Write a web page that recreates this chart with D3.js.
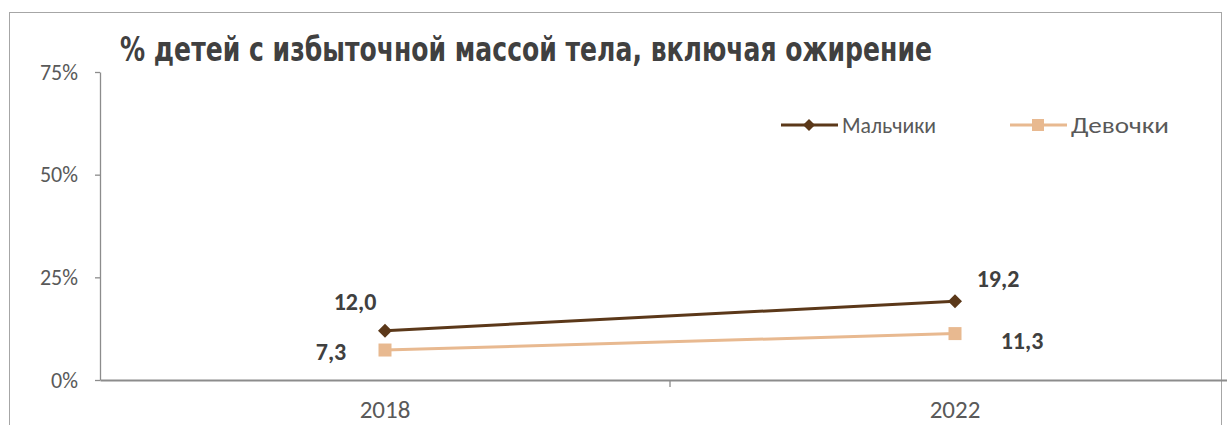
<!DOCTYPE html>
<html>
<head>
<meta charset="utf-8">
<script src="https://cdn.jsdelivr.net/npm/d3@7"></script>
<style>
  body { margin: 0; background: #fff; }
  svg { display: block; }
</style>
</head>
<body>
<svg id="chart" width="1227" height="425"></svg>
<script>
"use strict";

var years = ["2018", "2022"];
var boys = [12.0, 19.2];
var girls = [7.3, 11.3];
var yTicks = [0, 25, 50, 75];
var boysLabels = ["12,0", "19,2"];
var girlsLabels = ["7,3", "11,3"];

var svg = d3.select("#chart");
var bodyFont = "Calibri, Carlito, 'Open Sans', sans-serif";

// frame
svg.append("rect")
  .attr("x", 9.5).attr("y", 12.5)
  .attr("width", 1212).attr("height", 420)
  .attr("fill", "none").attr("stroke", "#a6a6a6");

var x = d3.scaleBand().domain(years).range([100, 1240]);
var y = d3.scaleLinear().domain([0, 75]).range([380, 72]);

// y axis
var yAxis = d3.axisLeft(y).tickValues(yTicks).tickSize(5).tickSizeOuter(0)
  .tickFormat(function (d) { return d + "%"; });
var gy = svg.append("g").attr("transform", "translate(100,0)").call(yAxis);
gy.select(".domain").attr("stroke", "#8c8c8c").attr("stroke-width", 1.3);
gy.selectAll(".tick line").attr("stroke", "#8c8c8c").attr("stroke-width", 1.3);
gy.selectAll(".tick text")
  .attr("x", -22)
  .attr("fill", "#595959")
  .style("font-family", bodyFont)
  .style("font-size", "22px");

// x axis
var xAxis = d3.axisBottom(x).tickSize(0).tickSizeOuter(0);
var gx = svg.append("g").attr("transform", "translate(0,380)").call(xAxis);
gx.select(".domain").attr("stroke", "#8c8c8c").attr("stroke-width", 2);
gx.selectAll(".tick text")
  .attr("y", 38).attr("dy", 0)
  .attr("fill", "#595959")
  .style("font-family", bodyFont)
  .style("font-size", "25px");
// category separators
gx.selectAll(".sep")
  .data(years.slice(1))
  .enter().append("line")
  .attr("x1", function (d) { return x(d); })
  .attr("x2", function (d) { return x(d); })
  .attr("y1", 0).attr("y2", 7)
  .attr("stroke", "#8c8c8c").attr("stroke-width", 1.3);

// title (condensed to the reference width)
svg.append("text")
  .attr("x", 120).attr("y", 61)
  .attr("fill", "#404040")
  .attr("textLength", 812)
  .attr("lengthAdjust", "spacingAndGlyphs")
  .style("font-family", "'DejaVu Sans Condensed', 'DejaVu Sans', sans-serif")
  .style("font-stretch", "condensed")
  .style("font-weight", "bold")
  .style("font-size", "33px")
  .text("% детей с избыточной массой тела, включая ожирение");

var cx = function (d, i) { return x(years[i]) + x.bandwidth() / 2; };
var line = d3.line()
  .x(function (d, i) { return x(years[i]) + x.bandwidth() / 2; })
  .y(function (d) { return y(d); });

var boysColor = "#5b3819";
var girlsColor = "#e8b990";
var diamond = "M0,-7L7,0L0,7L-7,0Z";

svg.append("path").datum(girls)
  .attr("d", line).attr("fill", "none")
  .attr("stroke", girlsColor).attr("stroke-width", 3);
svg.append("path").datum(boys)
  .attr("d", line).attr("fill", "none")
  .attr("stroke", boysColor).attr("stroke-width", 3);

svg.selectAll(".gsq").data(girls).enter().append("rect")
  .attr("x", function (d, i) { return cx(d, i) - 6.5; })
  .attr("y", function (d) { return y(d) - 6.5; })
  .attr("width", 13).attr("height", 13)
  .attr("fill", girlsColor);

svg.selectAll(".bdm").data(boys).enter().append("path")
  .attr("d", diamond)
  .attr("transform", function (d, i) { return "translate(" + cx(d, i) + "," + y(d) + ")"; })
  .attr("fill", boysColor);

// data labels
var labelStyle = function (sel) {
  sel.attr("fill", "#404040")
    .style("font-family", bodyFont)
    .style("font-weight", "bold")
    .style("font-size", "24px");
};
var boysOff = [[-30, -21], [43, -14]];
var girlsOff = [[-54, 10], [67, 15]];
svg.selectAll(".bl").data(boys).enter().append("text")
  .attr("x", function (d, i) { return cx(d, i) + boysOff[i][0]; })
  .attr("y", function (d, i) { return y(d) + boysOff[i][1]; })
  .attr("text-anchor", "middle")
  .text(function (d, i) { return boysLabels[i]; })
  .call(labelStyle);
svg.selectAll(".gl").data(girls).enter().append("text")
  .attr("x", function (d, i) { return cx(d, i) + girlsOff[i][0]; })
  .attr("y", function (d, i) { return y(d) + girlsOff[i][1]; })
  .attr("text-anchor", "middle")
  .text(function (d, i) { return girlsLabels[i]; })
  .call(labelStyle);

// legend
var legend = [
  { name: "Мальчики", color: boysColor, shape: "diamond", x: 781, w: 94 },
  { name: "Девочки", color: girlsColor, shape: "square", x: 1010, w: 98 }
];
var lg = svg.selectAll(".lg").data(legend).enter().append("g")
  .attr("transform", function (d) { return "translate(" + d.x + ",125)"; });
lg.append("line").attr("x1", 0).attr("x2", 57).attr("y1", 0).attr("y2", 0)
  .attr("stroke", function (d) { return d.color; }).attr("stroke-width", 3);
lg.append("path")
  .attr("d", function (d) {
    return d.shape === "diamond" ? "M0,-6L6,0L0,6L-6,0Z" : "M-6,-6H6V6H-6Z";
  })
  .attr("transform", "translate(28,0)")
  .attr("fill", function (d) { return d.color; });
lg.append("text")
  .attr("x", 61).attr("y", 8)
  .attr("fill", "#595959")
  .attr("textLength", function (d) { return d.w; })
  .attr("lengthAdjust", "spacingAndGlyphs")
  .style("font-family", bodyFont)
  .style("font-size", "23px")
  .text(function (d) { return d.name; });
</script>
</body>
</html>
